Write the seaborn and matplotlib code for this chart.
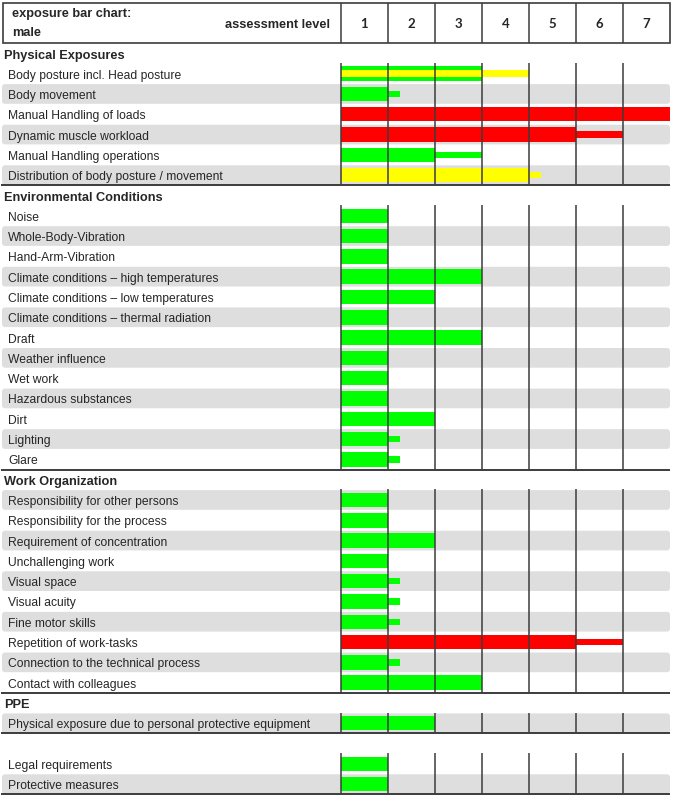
import numpy as np
import pandas as pd
import matplotlib
matplotlib.use("Agg")
import matplotlib.pyplot as plt
import seaborn as sns
from matplotlib.patches import Rectangle, FancyBboxPatch

# ---- data ---------------------------------------------------------------
SECTIONS = ["Physical Exposures", "Environmental Conditions", "Work Organization", "PPE", ""]

PHYS_ITEMS = [
    "Body posture incl. Head posture",
    "Body movement",
    "Manual Handling of loads",
    "Dynamic muscle workload",
    "Manual Handling operations",
    "Distribution of body posture / movement",
]
PHYS_MAIN = [3, 1, 7, 5, 2, 4]
PHYS_MAIN_COL = ["G", "G", "R", "R", "G", "Y"]
PHYS_EXT = [4, 1.25, 0, 6, 3, 4.25]
PHYS_EXT_COL = ["Y", "G", "R", "R", "G", "Y"]

ENV_ITEMS = [
    "Noise",
    "Whole-Body-Vibration",
    "Hand-Arm-Vibration",
    "Climate conditions \u2013 high temperatures",
    "Climate conditions \u2013 low temperatures",
    "Climate conditions \u2013 thermal radiation",
    "Draft",
    "Weather influence",
    "Wet work",
    "Hazardous substances",
    "Dirt",
    "Lighting",
    "Glare",
]
ENV_MAIN = [1, 1, 1, 3, 2, 1, 3, 1, 1, 1, 2, 1, 1]
ENV_MAIN_COL = ["G"] * 13
ENV_EXT = [0, 0, 0, 0, 0, 0, 0, 0, 0, 0, 0, 1.25, 1.25]
ENV_EXT_COL = ["G"] * 13

WO_ITEMS = [
    "Responsibility for other persons",
    "Responsibility for the process",
    "Requirement of concentration",
    "Unchallenging work",
    "Visual space",
    "Visual acuity",
    "Fine motor skills",
    "Repetition of work-tasks",
    "Connection to the technical process",
    "Contact with colleagues",
]
WO_MAIN = [1, 1, 2, 1, 1, 1, 1, 5, 1, 3]
WO_MAIN_COL = ["G", "G", "G", "G", "G", "G", "G", "R", "G", "G"]
WO_EXT = [0, 0, 0, 0, 1.25, 1.25, 1.25, 6, 1.25, 0]
WO_EXT_COL = ["G", "G", "G", "G", "G", "G", "G", "R", "G", "G"]

PPE_ITEMS = ["Physical exposure due to personal protective equipment"]
PPE_MAIN = [2]
PPE_MAIN_COL = ["G"]
PPE_EXT = [0]
PPE_EXT_COL = ["G"]

OTHER_ITEMS = ["Legal requirements", "Protective measures"]
OTHER_MAIN = [1, 1]
OTHER_MAIN_COL = ["G", "G"]
OTHER_EXT = [0, 0]
OTHER_EXT_COL = ["G", "G"]

LEVELS = [1, 2, 3, 4, 5, 6, 7]
COLORS = {"G": "#00ff00", "Y": "#ffff00", "R": "#ff0000"}

# ---- layout -------------------------------------------------------------
W, H = 679, 800
LEFT_PX = 341       # pixel where level 0 sits
LEVEL_PX = 47       # pixels per assessment level
RIGHT_PX = 670
ROW_H = 20.3
HEADER_TOP, HEADER_BOTTOM = 3, 43.2
LINE_COL = "#3c3c3c"
BAND_COL = "#dedede"
FONT = "Liberation Sans"


def px2lvl(px):
    return (px - LEFT_PX) / LEVEL_PX


groups = [
    (PHYS_ITEMS, PHYS_MAIN, PHYS_MAIN_COL, PHYS_EXT, PHYS_EXT_COL),
    (ENV_ITEMS, ENV_MAIN, ENV_MAIN_COL, ENV_EXT, ENV_EXT_COL),
    (WO_ITEMS, WO_MAIN, WO_MAIN_COL, WO_EXT, WO_EXT_COL),
    (PPE_ITEMS, PPE_MAIN, PPE_MAIN_COL, PPE_EXT, PPE_EXT_COL),
    (OTHER_ITEMS, OTHER_MAIN, OTHER_MAIN_COL, OTHER_EXT, OTHER_EXT_COL),
]

rows, blocks = [], []
y = HEADER_BOTTOM
for title, (items, main, main_col, ext, ext_col) in zip(SECTIONS, groups):
    title_y = y + ROW_H / 2
    y += ROW_H
    top = y
    for label, m, mc, e, ec in zip(items, main, main_col, ext, ext_col):
        rows.append(dict(label=label, y=y + ROW_H / 2, main=m, main_col=mc, ext=e, ext_col=ec))
        y += ROW_H
    blocks.append((title, title_y, top, y))

df = pd.DataFrame(rows)

# ---- plot ---------------------------------------------------------------
sns.set_style("white")
fig = plt.figure(figsize=(W / 100, H / 100), dpi=100)
ax = fig.add_axes([0, 0, 1, 1])

# alternating grey bands
for i, r in df.iterrows():
    if i % 2 == 1:
        band = FancyBboxPatch(
            (px2lvl(2), r["y"] - ROW_H / 2 + 0.3), px2lvl(RIGHT_PX) - px2lvl(2), ROW_H - 0.6,
            boxstyle="round,pad=0,rounding_size=%f" % (3 / LEVEL_PX),
            mutation_aspect=LEVEL_PX, facecolor=BAND_COL, edgecolor="none", zorder=0,
        )
        ax.add_patch(band)

sns.barplot(
    data=df, x="main", y="y", hue="main_col", palette=COLORS, orient="h",
    native_scale=True, width=14.5 / ROW_H, dodge=False, errorbar=None,
    saturation=1, legend=False, linewidth=0, zorder=2, ax=ax,
)
sns.barplot(
    data=df, x="ext", y="y", hue="ext_col", palette=COLORS, orient="h",
    native_scale=True, width=6.5 / ROW_H, dodge=False, errorbar=None,
    saturation=1, legend=False, linewidth=0, zorder=3, ax=ax,
)

# section grid lines, titles and bottom rules
for title, title_y, top, bottom in blocks:
    ax.vlines(range(0, 7), top - 0.5, bottom, color=LINE_COL, lw=1.1, zorder=4)
    ax.hlines(bottom, px2lvl(1), px2lvl(RIGHT_PX), color=LINE_COL, lw=1.4, zorder=4)
    if title:
        ax.text(px2lvl(4), title_y + 1, title, fontsize=9.2, fontweight="bold",
                family=FONT, va="center_baseline", ha="left")

for _, r in df.iterrows():
    ax.text(px2lvl(8), r["y"] + 0.5, r["label"], fontsize=8.7, family=FONT,
            va="center_baseline", ha="left", zorder=5)

# header box
ax.add_patch(Rectangle((px2lvl(3), HEADER_TOP), px2lvl(RIGHT_PX) - px2lvl(3),
                       HEADER_BOTTOM - 0.7 - HEADER_TOP, fill=False,
                       edgecolor=LINE_COL, lw=1.2, zorder=4))
ax.vlines(range(0, 7), HEADER_TOP, HEADER_BOTTOM - 0.7, color=LINE_COL, lw=1.1, zorder=4)
for lv in LEVELS:
    ax.text(lv - 0.5, 23, str(lv), fontsize=9.5, fontweight="bold", family="Lato",
            ha="center", va="center_baseline")
ax.text(px2lvl(12), 13, "exposure bar chart:", fontsize=9.2, fontweight="bold",
        family=FONT, ha="left", va="center_baseline")
ax.text(px2lvl(12), 32, "male", fontsize=9.2, fontweight="bold",
        family=FONT, ha="left", va="center_baseline")
ax.text(px2lvl(330), 23, "assessment level", fontsize=9.2, fontweight="bold",
        family=FONT, ha="right", va="center_baseline")

ax.set_xlim(px2lvl(0), px2lvl(W))
ax.set_ylim(H, 0)
ax.set_axis_off()

fig.savefig("out.png", dpi=100)
plt.close(fig)
